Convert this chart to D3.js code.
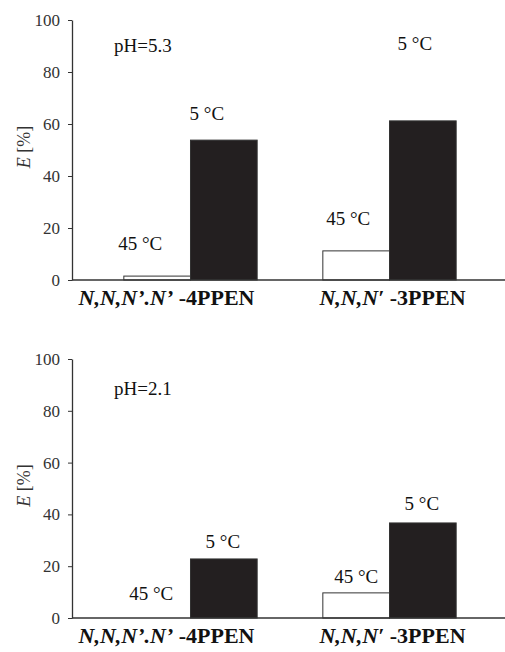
<!DOCTYPE html>
<html lang="en">
<head>
    <meta charset="UTF-8">
    <title>E vs temperature</title>
    <script src="https://cdn.jsdelivr.net/npm/d3@7"></script>
    <style>
        body { margin: 0; background: #fff; }
        .tick text { font-family: "Liberation Serif", "Times New Roman", serif; font-size: 17px; fill: #333; }
        .tick line, .domain { stroke: #333; }
        .ann { font-family: "Liberation Serif", "Times New Roman", serif; font-size: 19px; fill: #111; }
        .cat { font-family: "Liberation Serif", "Times New Roman", serif; font-weight: bold; font-size: 22px; fill: #111; }
        .ylab { font-family: "Liberation Serif", serif; font-size: 18px; fill: #333; }
    </style>
</head>
<body>
<div id="chart"></div>
<script>
    const width = 505;
    const height = 652;

    // data
    const categories = ["4PPEN", "3PPEN"];
    const catItalic = ["N,N,N\u2019.N\u2019", "N,N,N\u2032"];
    const catSuffix = [" -4PPEN", " -3PPEN"];
    const temps = ["45 \u00b0C", "5 \u00b0C"];
    const yTicks = [0, 20, 40, 60, 80, 100];

    const ph53_45C = [1.5, 11.2];
    const ph53_5C = [53.8, 61.2];
    const ph21_45C = [0, 9.7];
    const ph21_5C = [22.8, 36.7];

    // layout per panel (label positions in data units)
    const panels = [
        {
            ph: "pH=5.3", top: 20, bottom: 280,
            series: [ph53_45C, ph53_5C],
            labY: [[11.5, 61.5], [21.2, 88.5]],
            labDx: [[-17, -17], [-8, -8]],
            phY: 87.8
        },
        {
            ph: "pH=2.1", top: 359, bottom: 618,
            series: [ph21_45C, ph21_5C],
            labY: [[7, 27], [13.5, 41.7]],
            labDx: [[-6, -1], [0, -1]],
            phY: 86
        }
    ];

    const AXIS_X = 72;
    const catDx = [-24, 3];

    const svg = d3.select("#chart").append("svg")
        .attr("width", width)
        .attr("height", height);

    const x0 = d3.scaleBand()
        .domain(categories)
        .range([90, 490])
        .paddingInner(0.33)
        .paddingOuter(0.17);

    const x1 = d3.scaleBand()
        .domain(temps)
        .range([0, x0.bandwidth()]);

    const fills = ["#fff", "#231f20"];

    panels.forEach(function (p) {
        const y = d3.scaleLinear().domain([0, 100]).range([p.bottom, p.top]);
        const g = svg.append("g");

        // bars
        temps.forEach(function (t, ti) {
            const rows = p.series[ti].map(function (v, i) {
                return { cat: categories[i], value: v };
            }).filter(function (d) { return d.value > 0; });

            g.selectAll("rect.t" + ti)
                .data(rows)
                .enter()
                .append("rect")
                .attr("class", "t" + ti)
                .attr("x", function (d) { return x0(d.cat) + x1(t); })
                .attr("y", function (d) { return y(d.value); })
                .attr("width", x1.bandwidth())
                .attr("height", function (d) { return y(0) - y(d.value); })
                .attr("fill", fills[ti])
                .attr("stroke", "#333")
                .attr("stroke-width", 1);
        });

        // x axis line
        g.append("line")
            .attr("x1", AXIS_X).attr("x2", width)
            .attr("y1", y(0)).attr("y2", y(0))
            .attr("stroke", "#333").attr("stroke-width", 1.5);

        // y axis
        g.append("g")
            .attr("transform", "translate(" + AXIS_X + ",0)")
            .call(d3.axisLeft(y).tickValues(yTicks).tickSize(4).tickSizeOuter(0).tickPadding(8))
            .call(function (a) { a.select(".domain").attr("stroke-width", 1.3); });

        // temperature annotations
        categories.forEach(function (c, ci) {
            temps.forEach(function (t, ti) {
                g.append("text")
                    .attr("class", "ann")
                    .attr("text-anchor", "middle")
                    .attr("x", x0(c) + x1(t) + x1.bandwidth() / 2 + p.labDx[ci][ti])
                    .attr("y", y(p.labY[ci][ti]))
                    .text(t);
            });
        });

        // pH label
        g.append("text")
            .attr("class", "ann")
            .attr("x", 114)
            .attr("y", y(p.phY))
            .text(p.ph);

        // category labels
        categories.forEach(function (c, ci) {
            const txt = g.append("text")
                .attr("class", "cat")
                .attr("text-anchor", "middle")
                .attr("x", x0(c) + x0.bandwidth() / 2 + catDx[ci])
                .attr("y", y(0) + 25);
            txt.append("tspan").style("font-style", "italic").text(catItalic[ci]);
            txt.append("tspan").text(catSuffix[ci]);
        });

        // y label
        const ymid = (p.top + p.bottom) / 2 - 3;
        const yl = g.append("text")
            .attr("class", "ylab")
            .attr("text-anchor", "middle")
            .attr("transform", "translate(30," + ymid + ") rotate(-90)");
        yl.append("tspan").style("font-style", "italic").text("E");
        yl.append("tspan").text(" [%]");
    });
</script>
</body>
</html>
